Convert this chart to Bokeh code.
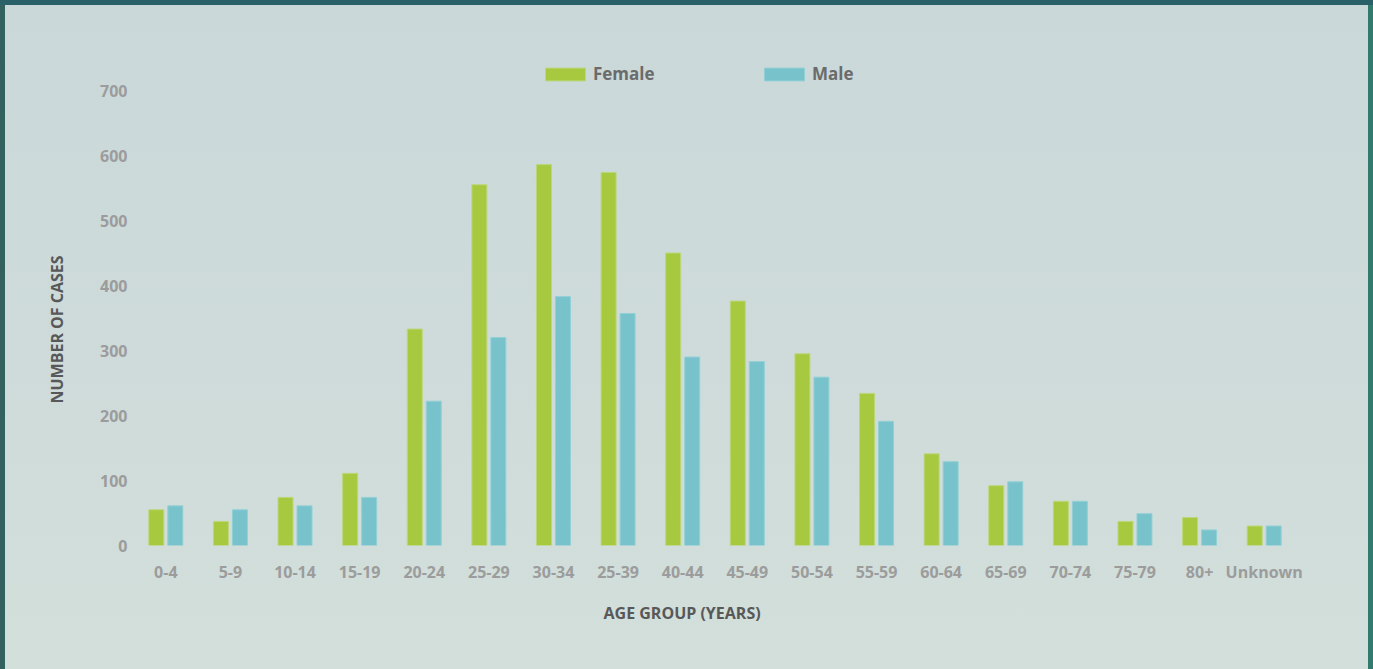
from bokeh.plotting import figure
from bokeh.models import (ColumnDataSource, FactorRange, Range1d, FixedTicker, Legend, LegendItem, Title)
from bokeh.transform import dodge
from bokeh.embed import file_html
from bokeh.resources import INLINE

age_groups = ["0-4", "5-9", "10-14", "15-19", "20-24", "25-29", "30-34", "25-39", "40-44",
              "45-49", "50-54", "55-59", "60-64", "65-69", "70-74", "75-79", "80+", "Unknown"]
female = [55, 37, 74, 111, 333, 555, 586, 574, 450, 376, 295, 234, 141, 92, 68, 37, 43, 30]
male = [61, 55, 61, 74, 222, 320, 383, 357, 290, 283, 259, 191, 129, 98, 68, 49, 24, 30]
y_ticks = [0, 100, 200, 300, 400, 500, 600, 700]

FONT = "Open Sans"
GREEN = "#a6c940"
BLUE = "#78c3cb"

src = ColumnDataSource(dict(age=age_groups, female=female, male=male))

p = figure(width=1373, height=669, output_backend="svg", toolbar_location=None,
           x_range=FactorRange(factors=age_groups), y_range=Range1d(0, 795.4),
           min_border_left=133, min_border_right=77, min_border_top=28, min_border_bottom=124)
p.styles = {
    "background": "linear-gradient(to bottom, #cad8d9 0%, #cedbda 55%, #d2dfda 100%)",
    "box-shadow": ("inset 0 5px 0 0 #2a6068, inset 5px 0 0 0 #33615f, "
                   "inset -5px 0 0 0 #327a6e"),
}

p.background_fill_alpha = 0
p.border_fill_alpha = 0
p.outline_line_color = None
p.grid.grid_line_color = None

rf = p.vbar(x=dodge("age", -0.147, range=p.x_range), top="female", width=0.232, source=src,
            fill_color=GREEN, line_color="#bcd77a", line_width=1)
rm = p.vbar(x=dodge("age", 0.147, range=p.x_range), top="male", width=0.232, source=src,
            fill_color=BLUE, line_color="#93d0d6", line_width=1)

for ax in (p.xaxis, p.yaxis):
    ax.axis_line_color = None
    ax.major_tick_line_color = None
    ax.minor_tick_line_color = None
    ax.major_tick_out = 0
    ax.major_tick_in = 0
    ax.minor_tick_out = 0
    ax.major_label_text_font = FONT
    ax.major_label_text_font_size = "16px"
    ax.major_label_text_font_style = "bold"
    ax.major_label_text_color = "#9c9c9c"

p.yaxis.ticker = FixedTicker(ticks=y_ticks)
p.yaxis.major_label_standoff = 6
p.xaxis.major_label_standoff = 15

legend_style = dict(padding=0, margin=0, border_line_color=None, background_fill_alpha=0,
                    glyph_width=50, glyph_height=16, label_height=13, label_standoff=3,
                    label_text_font=FONT, label_text_font_size="17px", label_text_font_style="bold",
                    label_text_color="#6b6b6b", orientation="horizontal")
lf = Legend(items=[LegendItem(label="Female", renderers=[rf])], location=(407, 460), **legend_style)
lm = Legend(items=[LegendItem(label="Male", renderers=[rm])], location=(626, 460), **legend_style)
p.add_layout(lf)
p.add_layout(lm)

title_style = dict(text_font=FONT, text_font_size="16px", text_font_style="bold",
                   text_color="#585858", align="left")
has_standoff = "standoff" in Title.properties()
xt = Title(text="AGE GROUP (YEARS)", offset=470, vertical_align="top", **title_style)
yt = Title(text="NUMBER OF CASES", offset=142, vertical_align="bottom", **title_style)
if has_standoff:
    xt.standoff = 32
    yt.standoff = 60
p.add_layout(xt, "below")
p.add_layout(yt, "left")

open("out.html", "w").write(file_html(p, INLINE))
